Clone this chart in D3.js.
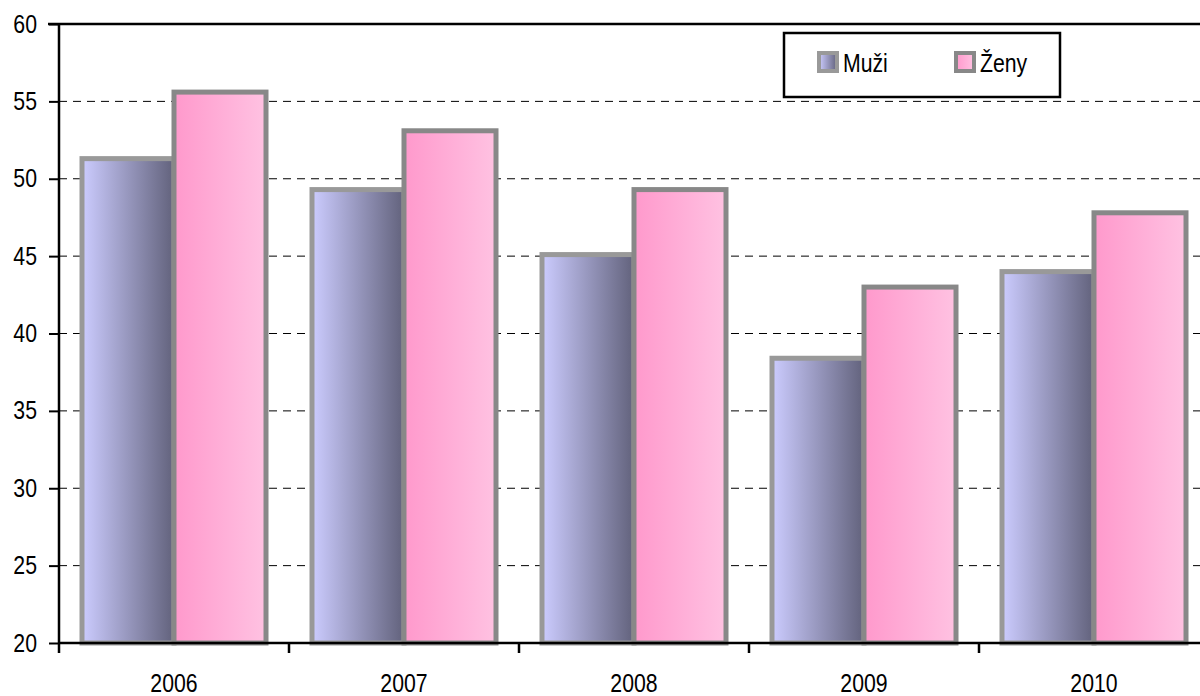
<!DOCTYPE html>
<html>
<head>
<meta charset="utf-8">
<script src="https://cdn.jsdelivr.net/npm/d3@7"></script>
<style>
  html, body { margin: 0; padding: 0; background: #fff; }
  svg { display: block; }
  text { font-family: "Liberation Sans", Arial, sans-serif; fill: #000; }
</style>
</head>
<body>
<svg id="chart" width="1200" height="696"></svg>
<script>
const years = ["2006", "2007", "2008", "2009", "2010"];
const seriesNames = ["Muži", "Ženy"];
const muzi = [51.3, 49.3, 45.1, 38.4, 44.0];
const zeny = [55.6, 53.1, 49.3, 43.0, 47.8];
const yTicks = [20, 25, 30, 35, 40, 45, 50, 55, 60];

const svg = d3.select("#chart");
const W = 1200, H = 696;
const mLeft = 59, mTop = 24, mBottom = 643, mRight = 1209;
const NARROW = 0.85;

// condense text horizontally (the original uses a narrow face)
function narrow(sel) {
  sel.each(function () {
    const t = d3.select(this);
    const tx = +t.attr("x") || 0, ty = +t.attr("y") || 0;
    t.attr("x", 0).attr("y", 0)
     .attr("transform", `translate(${tx},${ty}) scale(${NARROW},1)`);
  });
}

const x = d3.scaleBand().domain(years).range([mLeft, mRight]).padding(0);
const inner = d3.scaleBand().domain(seriesNames).range([23, x.bandwidth() - 23]).padding(0);
const y = d3.scaleLinear().domain([20, 60]).range([mBottom, mTop]);

const defs = svg.append("defs");
function grad(id, c0, c1) {
  const g = defs.append("linearGradient").attr("id", id).attr("x1", "0%").attr("x2", "100%").attr("y1", "0%").attr("y2", "0%");
  g.append("stop").attr("offset", "0%").attr("stop-color", c0);
  g.append("stop").attr("offset", "100%").attr("stop-color", c1);
}
grad("gM", "#ccccff", "#62627c");
grad("gZ", "#ff99cc", "#ffc2e2");
const fills = { "Muži": "url(#gM)", "Ženy": "url(#gZ)" };
const strokes = { "Muži": "#999999", "Ženy": "#888888" };

// gridlines
svg.append("g").selectAll("line")
  .data(yTicks.filter(t => t > 20 && t < 60))
  .join("line")
  .attr("x1", mLeft).attr("x2", W)
  .attr("y1", d => y(d)).attr("y2", d => y(d))
  .attr("stroke", "#000").attr("stroke-width", 1)
  .attr("stroke-dasharray", "8,6");

// bars
const rows = years.map((yr, i) => ({ year: yr, values: [ { s: "Muži", v: muzi[i] }, { s: "Ženy", v: zeny[i] } ] }));
const groups = svg.append("g").selectAll("g")
  .data(rows).join("g")
  .attr("transform", d => `translate(${x(d.year)},0)`);
groups.selectAll("rect")
  .data(d => d.values).join("rect")
  .attr("x", d => inner(d.s))
  .attr("width", inner.bandwidth())
  .attr("y", d => y(d.v))
  .attr("height", d => y(20) - y(d.v))
  .attr("fill", d => fills[d.s])
  .attr("stroke", d => strokes[d.s])
  .attr("stroke-width", 5);

// top border
svg.append("line").attr("x1", 48).attr("x2", W).attr("y1", y(60)).attr("y2", y(60))
  .attr("stroke", "#000").attr("stroke-width", 2.5);

// y axis
const yAxis = d3.axisLeft(y).tickValues(yTicks).tickSize(10).tickPadding(12);
const gy = svg.append("g").attr("transform", `translate(${mLeft},0)`).call(yAxis);
gy.select(".domain").remove();
gy.attr("font-family", null).attr("font-size", null);
gy.selectAll(".tick line").attr("stroke", "#000").attr("stroke-width", 2);
gy.selectAll(".tick text").attr("font-size", 25).attr("fill", "#000").call(narrow);
svg.append("line").attr("x1", mLeft).attr("x2", mLeft).attr("y1", mTop - 1).attr("y2", mBottom + 10)
  .attr("stroke", "#000").attr("stroke-width", 2.5);

// x axis
svg.append("line").attr("x1", mLeft).attr("x2", W).attr("y1", mBottom).attr("y2", mBottom)
  .attr("stroke", "#000").attr("stroke-width", 2.5);
const xBounds = years.slice(1).map(d => x(d));
svg.append("g").selectAll("line").data(xBounds).join("line")
  .attr("x1", d => d).attr("x2", d => d).attr("y1", mBottom).attr("y2", mBottom + 10)
  .attr("stroke", "#000").attr("stroke-width", 2.5);
const xAxis = d3.axisBottom(x).tickSize(0).tickPadding(0);
const gx = svg.append("g").attr("transform", `translate(0,${mBottom})`).call(xAxis);
gx.select(".domain").remove();
gx.attr("font-family", null).attr("font-size", null);
gx.selectAll(".tick text").attr("font-size", 25).attr("fill", "#000")
  .attr("dy", null).attr("y", 49).call(narrow);

// legend
const lg = svg.append("g");
lg.append("rect").attr("x", 784).attr("y", 33).attr("width", 276).attr("height", 64)
  .attr("fill", "#fff").attr("stroke", "#000").attr("stroke-width", 2.5);
const legX = d3.scaleOrdinal().domain(seriesNames).range([817, 954]);
const li = lg.selectAll("g.item").data(seriesNames).join("g").attr("class", "item")
  .attr("transform", d => `translate(${legX(d)},51)`);
li.append("rect").attr("x", 2).attr("y", 2).attr("width", 18).attr("height", 18)
  .attr("fill", d => fills[d]).attr("stroke", d => strokes[d]).attr("stroke-width", 4);
li.append("text").attr("x", 26).attr("y", 21).attr("font-size", 25).text(d => d).call(narrow);
</script>
</body>
</html>
